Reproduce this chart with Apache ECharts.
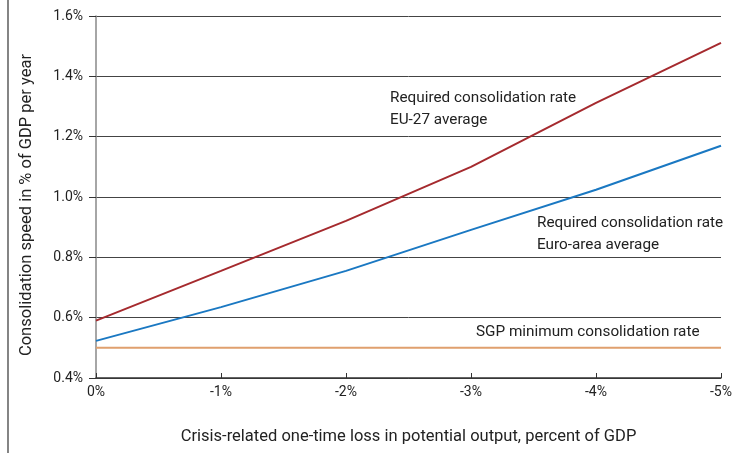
<!DOCTYPE html>
<html><head><meta charset="utf-8">
<script src="https://cdn.jsdelivr.net/npm/echarts@6/dist/echarts.min.js"></script>
<style>html,body{margin:0;padding:0;background:#fff}#c{width:739px;height:453px}</style>
</head><body><div id="c"></div>
<script>
const categories = ['0%', '-1%', '-2%', '-3%', '-4%', '-5%'];
const eu27 = [0.59, 0.755, 0.921, 1.10, 1.312, 1.511];
const euroArea = [0.523, 0.635, 0.755, 0.891, 1.024, 1.17];
const sgpMin = [0.5, 0.5, 0.5, 0.5, 0.5, 0.5];
const yTicks = [0.4, 0.6, 0.8, 1.0, 1.2, 1.4, 1.6];

const font = 'Roboto, "Noto Sans", sans-serif';
const txt = '#222';
const chart = echarts.init(document.getElementById('c'), null, {renderer: 'canvas'});
chart.setOption({
  animation: false,
  backgroundColor: '#fff',
  grid: {left: 96, right: 18, top: 16, bottom: 75, containLabel: false},
  xAxis: {
    type: 'category', data: categories, boundaryGap: false,
    name: 'Crisis-related one-time loss in potential output, percent of GDP',
    nameLocation: 'middle', nameGap: 50,
    nameTextStyle: {fontFamily: font, fontSize: 16.5, color: txt},
    axisLine: {lineStyle: {color: '#333', width: 1.5}},
    axisTick: {inside: true, length: 5, lineStyle: {color: '#333'}},
    axisLabel: {fontFamily: font, fontSize: 14, color: txt, margin: 7},
    splitLine: {show: false}
  },
  yAxis: {
    type: 'value', min: 0.4, max: 1.6, interval: 0.2,
    axisLine: {show: true, lineStyle: {color: '#888', width: 1.5}},
    axisTick: {show: true, length: 7, lineStyle: {color: '#333'}},
    axisLabel: {fontFamily: font, fontSize: 14, color: txt, margin: 13,
      formatter: v => v.toFixed(1) + '%'},
    splitLine: {show: true, lineStyle: {color: '#444', width: 1}}
  },
  series: [
    {name: 'EU-27', type: 'line', data: eu27, symbol: 'none',
     lineStyle: {color: '#a52a2e', width: 2}},
    {name: 'Euro area', type: 'line', data: euroArea, symbol: 'none',
     lineStyle: {color: '#1a78c2', width: 2}},
    {name: 'SGP', type: 'line', data: sgpMin, symbol: 'none',
     lineStyle: {color: '#e0a06e', width: 2}}
  ],
  graphic: [
    {type: 'line', shape: {x1: 8, y1: 0, x2: 8, y2: 453}, style: {stroke: '#333', lineWidth: 1.2}},
    {type: 'text', x: 27, y: 205, rotation: Math.PI / 2,
     style: {text: 'Consolidation speed in % of GDP per year', font: '16.5px ' + font, fill: txt,
       align: 'center', verticalAlign: 'middle'}},
    {type: 'text', left: 390, top: 87, style: {text: 'Required consolidation rate\nEU-27 average', font: '15.3px ' + font, fill: txt, lineHeight: 22}},
    {type: 'text', left: 537, top: 212, style: {text: 'Required consolidation rate\nEuro-area average', font: '15.3px ' + font, fill: txt, lineHeight: 22}},
    {type: 'text', left: 476, top: 325, style: {text: 'SGP minimum consolidation rate', font: '15.3px ' + font, fill: txt}}
  ]
});
</script></body></html>
